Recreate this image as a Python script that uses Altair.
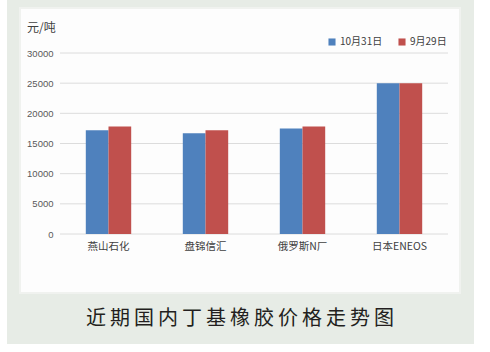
import altair as alt
import pandas as pd

companies = ["燕山石化", "盘锦信汇", "俄罗斯N厂", "日本ENEOS"]
dates = ["10月31日", "9月29日"]
oct31 = [17200, 16700, 17500, 25000]
sep29 = [17800, 17200, 17800, 25000]
y_ticks = [0, 5000, 10000, 15000, 20000, 25000, 30000]
colors = ["#4F81BD", "#C0504D"]
title_text = "近期国内丁基橡胶价格走势图"
unit_text = "元/吨"

rows = []
for i, c in enumerate(companies):
    rows.append({"company": c, "date": dates[0], "value": oct31[i]})
    rows.append({"company": c, "date": dates[1], "value": sep29[i]})
df = pd.DataFrame(rows)
grid_df = pd.DataFrame({"value": y_ticks})

FONT = "Noto Sans CJK SC"
one = alt.Data(values=[{"a": 1}])

outer_bg = alt.Chart(one).mark_rect(color="#e7ece6").encode(
    x=alt.value(-53), x2=alt.value(414), y=alt.value(-53), y2=alt.value(291)
)
inner_bg = alt.Chart(one).mark_rect(color="#fdfdfd", stroke="#f0f2ef", strokeWidth=2).encode(
    x=alt.value(-40), x2=alt.value(400), y=alt.value(-45), y2=alt.value(240)
)

yscale = alt.Scale(domain=[0, 30000], nice=False)
yaxis = alt.Axis(title=None, values=y_ticks, format="d", labelFont="Liberation Sans",
                 labelFontSize=9.5, labelColor="#595959", labelPadding=7,
                 ticks=False, domain=False, grid=False, zindex=1)

grid = alt.Chart(grid_df).mark_rule(color="#dcdcdc", strokeWidth=1).encode(
    x=alt.value(0), x2=alt.value(388),
    y=alt.Y("value:Q", scale=yscale, axis=yaxis)
)

bars = alt.Chart(df).mark_bar(strokeWidth=0).encode(
    x=alt.X("company:N", sort=companies,
            scale=alt.Scale(paddingInner=0.532, paddingOuter=0.266),
            axis=alt.Axis(title=None, labelAngle=0, labelFont=FONT, labelFontSize=10.5,
                          labelColor="#404040", labelPadding=7, ticks=False,
                          domain=False, grid=False, zindex=1)),
    xOffset=alt.XOffset("date:N", sort=dates, scale=alt.Scale(paddingInner=0, paddingOuter=0)),
    y=alt.Y("value:Q", scale=yscale, axis=yaxis),
    color=alt.Color("date:N", sort=dates,
                    scale=alt.Scale(domain=dates, range=colors),
                    legend=alt.Legend(title=None, orient="none", legendX=267, legendY=-16,
                                      direction="horizontal", symbolType="square",
                                      symbolSize=50, symbolStrokeWidth=0,
                                      labelFont=FONT, labelFontSize=10, labelColor="#404040",
                                      columnPadding=14, labelOffset=3, padding=0)),
)

unit = alt.Chart(one).mark_text(text=unit_text, font=FONT, fontSize=12, color="#404040",
                                align="left", baseline="middle").encode(
    x=alt.value(-33), y=alt.value(-25)
)
title = alt.Chart(one).mark_text(text="\u2009".join(title_text), font=FONT, fontSize=20,
                                 color="#231f20", align="center", baseline="middle").encode(
    x=alt.value(180), y=alt.value(266)
)

chart = alt.layer(outer_bg, inner_bg, grid, bars, unit, title).properties(
    width=388, height=181,
    autosize=alt.AutoSizeParams(type="none"),
    padding={"left": 60, "top": 53, "right": 42, "bottom": 118},
    background="#ffffff",
).configure_view(stroke=None)

chart.save("out.html", embed_options={"renderer": "svg", "actions": False})
